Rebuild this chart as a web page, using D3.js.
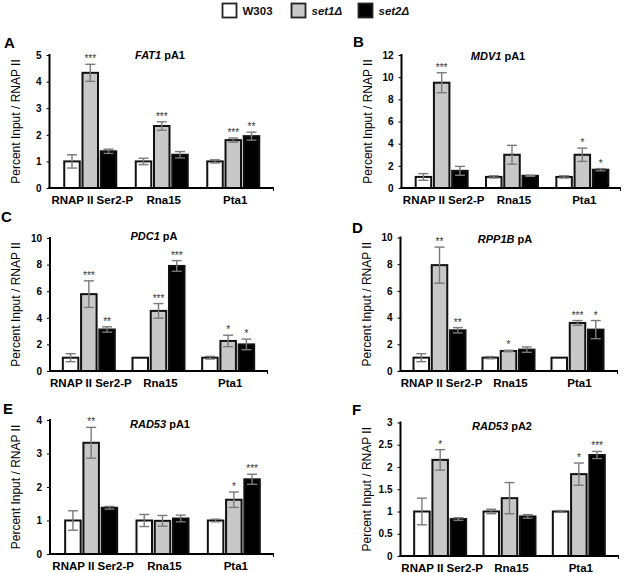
<!DOCTYPE html>
<html><head><meta charset="utf-8">
<script src="https://cdn.jsdelivr.net/npm/d3@7"></script>
<style>body{margin:0;background:#fff}svg{display:block;font-family:"Liberation Sans",Arial,Helvetica,sans-serif}</style>
</head><body><svg id="c" width="625" height="573"></svg>
<script>
const categories = ["RNAP II Ser2-P", "Rna15", "Pta1"];
const seriesNames = ["W303", "set1Δ", "set2Δ"];
const seriesItalic = [false, true, true];
const seriesFill = ["#ffffff", "#c8c8c8", "#000000"];

// Panel A: FAT1 pA1
const A_w303 = [1.0, 1.0, 1.0],   A_w303_err = [0.25, 0.12, 0.06];
const A_set1 = [4.33, 2.33, 1.80], A_set1_err = [0.32, 0.16, 0.08];
const A_set2 = [1.38, 1.25, 1.95], A_set2_err = [0.08, 0.12, 0.15];
const A_set1_sig = ["***", "***", "***"], A_set2_sig = ["", "", "**"];
const A_ticks = [0, 1, 2, 3, 4, 5];
// Panel B: MDV1 pA1
const B_w303 = [1.0, 1.0, 1.0],   B_w303_err = [0.3, 0.1, 0.1];
const B_set1 = [9.5, 3.0, 3.0],   B_set1_err = [0.9, 0.85, 0.6];
const B_set2 = [1.55, 1.1, 1.65], B_set2_err = [0.4, 0.05, 0.1];
const B_set1_sig = ["***", "", "*"], B_set2_sig = ["", "", "*"];
const B_ticks = [0, 2, 4, 6, 8, 10, 12];
// Panel C: PDC1 pA
const C_w303 = [1.0, 1.0, 1.0],   C_w303_err = [0.3, 0.0, 0.1];
const C_set1 = [5.78, 4.52, 2.26], C_set1_err = [1.0, 0.55, 0.43];
const C_set2 = [3.12, 7.9, 2.0],  C_set2_err = [0.2, 0.4, 0.4];
const C_set1_sig = ["***", "***", "*"], C_set2_sig = ["**", "***", "*"];
const C_ticks = [0, 2, 4, 6, 8, 10];
// Panel D: RPP1B pA
const D_w303 = [1.0, 1.0, 1.0],   D_w303_err = [0.3, 0.08, 0.0];
const D_set1 = [7.93, 1.5, 3.6],  D_set1_err = [1.35, 0.05, 0.18];
const D_set2 = [3.05, 1.6, 3.1],  D_set2_err = [0.2, 0.2, 0.68];
const D_set1_sig = ["**", "*", "***"], D_set2_sig = ["**", "", "*"];
const D_ticks = [0, 2, 4, 6, 8, 10];
// Panel E: RAD53 pA1
const E_w303 = [1.0, 1.0, 1.0],   E_w303_err = [0.29, 0.18, 0.04];
const E_set1 = [3.32, 0.99, 1.62], E_set1_err = [0.46, 0.16, 0.23];
const E_set2 = [1.38, 1.06, 2.23], E_set2_err = [0.04, 0.1, 0.15];
const E_set1_sig = ["**", "", "*"], E_set2_sig = ["", "", "***"];
const E_ticks = [0, 1, 2, 3, 4];
// Panel F: RAD53 pA2
const F_w303 = [1.0, 1.0, 1.0],   F_w303_err = [0.3, 0.05, 0.02];
const F_set1 = [2.16, 1.3, 1.84], F_set1_err = [0.23, 0.35, 0.25];
const F_set2 = [0.83, 0.89, 2.27], F_set2_err = [0.03, 0.04, 0.08];
const F_set1_sig = ["*", "", "*"], F_set2_sig = ["", "", "***"];
const F_ticks = [0, 0.5, 1, 1.5, 2, 2.5, 3];

const panelLetters = ["A", "B", "C", "D", "E", "F"];
const panelGenes = ["FAT1", "MDV1", "PDC1", "RPP1B", "RAD53", "RAD53"];
const panelSites = [" pA1", " pA1", " pA", " pA", " pA1", " pA2"];
const yTitle = "Percent Input / RNAP II";

const panelData = [
  {vals:[A_w303,A_set1,A_set2], errs:[A_w303_err,A_set1_err,A_set2_err], sig:[[],A_set1_sig,A_set2_sig], ticks:A_ticks},
  {vals:[B_w303,B_set1,B_set2], errs:[B_w303_err,B_set1_err,B_set2_err], sig:[[],B_set1_sig,B_set2_sig], ticks:B_ticks},
  {vals:[C_w303,C_set1,C_set2], errs:[C_w303_err,C_set1_err,C_set2_err], sig:[[],C_set1_sig,C_set2_sig], ticks:C_ticks},
  {vals:[D_w303,D_set1,D_set2], errs:[D_w303_err,D_set1_err,D_set2_err], sig:[[],D_set1_sig,D_set2_sig], ticks:D_ticks},
  {vals:[E_w303,E_set1,E_set2], errs:[E_w303_err,E_set1_err,E_set2_err], sig:[[],E_set1_sig,E_set2_sig], ticks:E_ticks},
  {vals:[F_w303,F_set1,F_set2], errs:[F_w303_err,F_set1_err,F_set2_err], sig:[[],F_set1_sig,F_set2_sig], ticks:F_ticks}
];

// layout (positions only)
const layout = [
  {ax:49.5, top:55, bottom:188, right:274, g0:5, g1:219.5, lx:4, ly:48, tx:160, ty:59},
  {ax:401.5, top:55, bottom:188, right:621, g0:5, g1:216, lx:353, ly:47, tx:498, ty:60},
  {ax:50, top:238, bottom:371, right:268, g0:4, g1:213, lx:1, ly:222, tx:154, ty:240},
  {ax:400.5, top:237.5, bottom:371, right:618, g0:4.5, g1:211.5, lx:352, ly:233, tx:505, ty:242.5},
  {ax:50, top:420, bottom:554, right:274, g0:5.5, g1:219.5, lx:3, ly:414, tx:160, ty:428},
  {ax:400.5, top:422.5, bottom:556, right:619, g0:5, g1:213, lx:352, ly:415, tx:502, ty:430}
];

const svg = d3.select("#c");

// Legend
const legX = [222.5, 291.5, 358.5];
const leg = svg.append("g");
seriesNames.forEach((s, i) => {
  leg.append("rect").attr("x", legX[i]).attr("y", 3.5).attr("width", 14).attr("height", 14)
    .attr("fill", seriesFill[i]).attr("stroke", "#222").attr("stroke-width", 1.8);
  leg.append("text").attr("x", legX[i] + 20).attr("y", 15).attr("font-size", 11.5)
    .attr("font-weight", "bold").attr("font-style", seriesItalic[i] ? "italic" : "normal")
    .attr("fill", "#111").text(s);
});

panelData.forEach((pd, pi) => {
  const L = layout[pi];
  const g = svg.append("g");
  const ymax = pd.ticks[pd.ticks.length - 1];
  const y = d3.scaleLinear().domain([0, ymax]).range([L.bottom, L.top]);
  const xg = d3.scaleBand().domain(categories).range([L.ax + L.g0, L.ax + L.g1]);
  const xs = d3.scaleBand().domain(seriesNames).range([-26, 26]).paddingInner(0.15);

  // letter
  g.append("text").attr("x", L.lx).attr("y", L.ly).attr("font-size", 15).attr("font-weight", "bold")
    .attr("fill", "#000").text(panelLetters[pi]);
  // title
  const t = g.append("text").attr("x", L.tx).attr("y", L.ty).attr("text-anchor", "middle")
    .attr("font-size", 11).attr("font-weight", "bold").attr("fill", "#000");
  t.append("tspan").attr("font-style", "italic").text(panelGenes[pi]);
  t.append("tspan").text(panelSites[pi]);

  // y title
  g.append("text").attr("transform", `translate(${L.ax - 30},${(L.top + L.bottom) / 2}) rotate(-90)`)
    .attr("text-anchor", "middle").attr("font-size", 12).attr("fill", "#000").text(yTitle);

  // bars
  pd.vals.forEach((vals, si) => {
    categories.forEach((c, ci) => {
      const cx = xg(c) + xg.bandwidth() / 2;
      const bx = cx + xs(seriesNames[si]);
      const bw = xs.bandwidth();
      g.append("rect").attr("x", bx).attr("y", y(vals[ci])).attr("width", bw)
        .attr("height", y(0) - y(vals[ci])).attr("fill", seriesFill[si])
        .attr("stroke", "#111").attr("stroke-width", 2);
    });
  });
  // error bars + significance
  pd.vals.forEach((vals, si) => {
    categories.forEach((c, ci) => {
      const cx = xg(c) + xg.bandwidth() / 2 + xs(seriesNames[si]) + xs.bandwidth() / 2;
      const e = pd.errs[si][ci];
      const yt = y(vals[ci] + e), yb = y(vals[ci] - e);
      if (e > 0) {
        const eg = g.append("g").attr("stroke", "#7a7a7a").attr("stroke-width", 1.4);
        eg.append("line").attr("x1", cx).attr("x2", cx).attr("y1", yt).attr("y2", yb);
        eg.append("line").attr("x1", cx - 5).attr("x2", cx + 5).attr("y1", yt).attr("y2", yt);
        eg.append("line").attr("x1", cx - 5).attr("x2", cx + 5).attr("y1", yb).attr("y2", yb);
      }
      const s = pd.sig[si][ci];
      if (s) {
        g.append("text").attr("x", cx).attr("y", Math.min(yt, y(vals[ci])) - 2).attr("text-anchor", "middle")
          .attr("font-size", 10).attr("fill", "#333").text(s);
      }
    });
  });

  // y axis
  const yAxis = d3.axisLeft(y).tickValues(pd.ticks).tickSize(3).tickPadding(5)
    .tickFormat(d => String(d));
  const ya = g.append("g").attr("transform", `translate(${L.ax},0)`).call(yAxis);
  ya.select(".domain").remove();
  ya.selectAll(".tick line").attr("stroke", "#000").attr("stroke-width", 1);
  ya.selectAll(".tick text").attr("font-size", 10).attr("font-weight", "bold").attr("fill", "#000")
    .attr("font-family", '"Liberation Sans",Arial,sans-serif');
  g.append("line").attr("x1", L.ax).attr("x2", L.ax).attr("y1", L.top - 1).attr("y2", L.bottom)
    .attr("stroke", "#000").attr("stroke-width", 2);

  // x axis
  const xAxis = d3.axisBottom(xg).tickSize(0).tickPadding(8);
  const xa = g.append("g").attr("transform", `translate(2,${L.bottom})`).call(xAxis);
  xa.select(".domain").remove();
  xa.selectAll(".tick text").attr("font-size", 11.5).attr("font-weight", "bold").attr("fill", "#000")
    .attr("font-family", '"Liberation Sans",Arial,sans-serif');
  g.append("line").attr("x1", L.ax - 1).attr("x2", L.right).attr("y1", L.bottom).attr("y2", L.bottom)
    .attr("stroke", "#000").attr("stroke-width", 2);
  g.append("line").attr("x1", L.right - 0.5).attr("x2", L.right - 0.5).attr("y1", L.bottom).attr("y2", L.bottom + 3)
    .attr("stroke", "#000").attr("stroke-width", 1);
});
</script></body></html>
